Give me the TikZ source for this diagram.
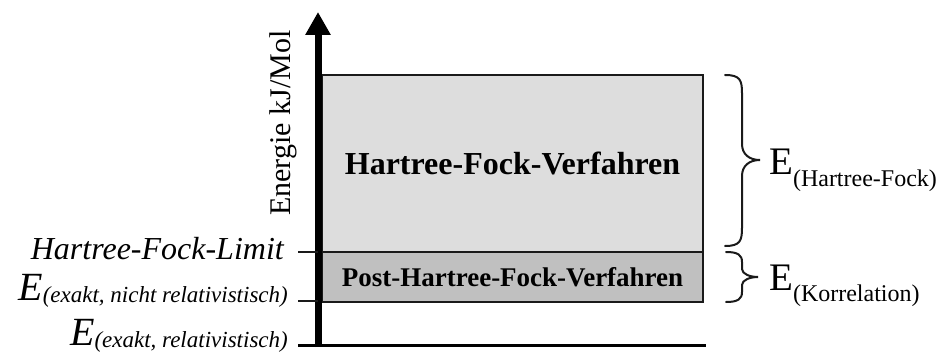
\documentclass[tikz,border=0pt]{standalone}
\usepackage{fontspec}
\setmainfont{Liberation Serif}
\usetikzlibrary{arrows.meta}
\definecolor{hflight}{HTML}{DDDDDD}
\definecolor{hfdark}{HTML}{C0C0C0}
\definecolor{edge}{HTML}{1A1A1A}
\newcommand{\fs}[1]{\fontsize{#1}{#1}\selectfont}
\begin{document}
\begin{tikzpicture}[x=1pt,y=-1pt,
  box/.style={draw=edge, line width=2pt, inner sep=0pt, outer sep=0pt, anchor=north west, font=\bfseries},
  leftlabel/.style={anchor=base east, inner sep=0pt},
  rightlabel/.style={anchor=base west, inner sep=0pt},
  tickline/.style={line width=2pt, draw=edge},
  bracepath/.style={line width=2pt, draw=edge, line cap=round}]
\useasboundingbox (0,0) rectangle (938,353);
% boxes
\node[box, fill=hflight, minimum width=381pt, minimum height=177pt] (hf) at (322,75) {\fs{32}Hartree-Fock-Verfahren};
\node[box, fill=hfdark, minimum width=381pt, minimum height=50pt] (post) at (322,252) {\raisebox{-3pt}{\fs{27}Post-Hartree-Fock-Verfahren}};
% baseline
\coordinate (bl) at (298,345);
\coordinate (br) at (706,345);
\draw[line width=3pt, draw=black] (bl) -- (br);
% axis
\coordinate (ab) at (318,347);
\coordinate (at) at (318,12);
\draw[line width=7pt, -{Triangle[width=24pt,length=23pt]}] (ab) -- (at);
% ticks
\coordinate (t1a) at (298,252); \coordinate (t1b) at (318,252);
\coordinate (t2a) at (298,301); \coordinate (t2b) at (318,301);
\draw[tickline] (t1a) -- (t1b);
\draw[tickline] (t2a) -- (t2b);
% axis label
\node[rotate=90, anchor=base west, inner sep=0pt] (axlab) at (290,216) {\fs{30}Energie kJ/Mol};
% left labels
\node[leftlabel] (hfl) at (284,259) {\fs{32}\itshape Hartree-Fock-Limit};
\node[leftlabel] (enr) at (288,300) {\fs{40}\itshape E\raisebox{-2pt}{\fs{23}(exakt, nicht relativistisch)}};
\node[leftlabel] (er) at (288,345) {\fs{40}\itshape E\raisebox{-2pt}{\fs{23}(exakt, relativistisch)}};
% braces
\draw[bracepath] (725,75) .. controls (740,75) and (742,80) .. (742,93) -- (742,144) .. controls (742,154) and (749,160) .. (760,160) .. controls (749,160) and (742,166) .. (742,176) -- (742,228) .. controls (742,241) and (740,246) .. (725,246);
\draw[bracepath] (726,252) .. controls (738,252) and (742,255) .. (742,262) -- (742,269) .. controls (742,274) and (750,277) .. (758,277) .. controls (750,277) and (742,280) .. (742,285) -- (742,292) .. controls (742,299) and (738,302) .. (726,302);
% right labels
\node[rightlabel] (ehf) at (769,175) {\fs{39}E\raisebox{-12pt}{\fs{24}(Hartree-Fock)}};
\node[rightlabel] (ek) at (769,290) {\fs{39}E\raisebox{-11pt}{\fs{24}(Korrelation)}};
\end{tikzpicture}
\end{document}
